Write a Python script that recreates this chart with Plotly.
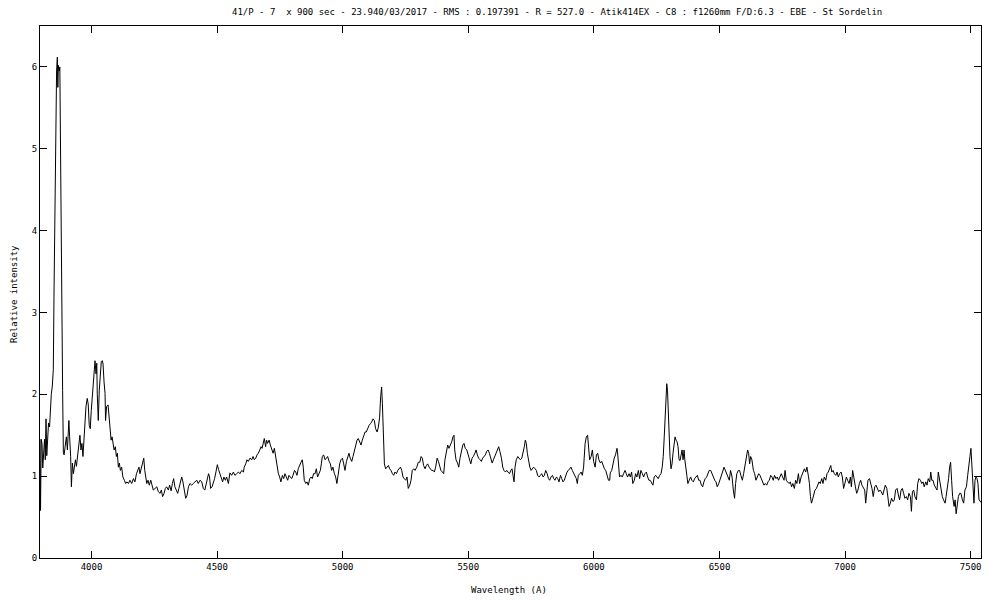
import plotly.graph_objects as go

# ---- data: wavelength (Angstrom) and relative intensity ----
wl_a = [3795,3797,3800,3803,3806,3810,3813,3816,3819,3822,
        3825,3829,3833,3836,3840,3844,3848,3851,3855,3858,
        3861,3864,3866,3868,3871,3874,3876,3879,3882,3885,
        3888,3891,3895,3900,3904,3908,3910,3913,3916,3917,
        3920,3924,3928,3932,3936,3940,3944,3948,3950,3954,
        3958,3962,3966,3970,3974,3978,3983,3987,3991,3995,
        3999,4003,4007,4011,4014,4018,4021,4023,4027,4031,
        4035,4039,4043,4046,4050,4054,4056,4060,4066,4070,
        4074,4078,4082,4086,4090,4095,4099,4103,4107,4111,
        4115,4120,4125,4131,4136,4141,4147,4153,4160,4167,
        4173,4179,4184,4189,4193,4198,4204,4208,4212,4216,
        4220,4225,4230,4236,4241,4246,4253,4260,4266,4273,
        4278,4283,4289,4294,4299,4306,4311,4317,4322,4327,
        4332,4338,4343,4348,4354,4359,4364,4370,4375,4380,
        4386,4392,4399,4405,4412,4419,4425,4432,4439,4445,
        4451,4456,4461,4466,4470,4474,4480,4485,4490,4496,
        4501,4506,4512,4517,4522,4527,4533,4538,4545]
iv_a = [1.45,0.58,1.45,1.40,1.10,1.25,1.45,1.20,1.70,1.25,
        1.55,1.65,1.60,1.80,2.00,2.10,2.30,3.30,4.60,4.90,
        5.95,6.12,5.75,6.02,5.95,6.00,5.15,3.50,2.60,2.05,
        1.28,1.26,1.36,1.48,1.32,1.64,1.68,1.48,1.30,1.24,
        0.87,1.16,1.03,1.12,1.20,1.12,1.24,1.32,1.40,1.50,
        1.32,1.40,1.24,1.48,1.68,1.85,1.95,1.88,1.62,1.58,
        1.80,1.97,2.13,2.29,2.41,2.25,2.38,2.00,1.68,2.05,
        2.25,2.40,2.41,2.37,2.15,2.01,1.68,1.85,1.87,1.72,
        1.56,1.44,1.48,1.40,1.32,1.36,1.24,1.28,1.11,1.16,
        1.07,1.11,0.99,0.95,0.91,0.93,0.91,0.95,0.91,0.97,
        0.93,1.03,1.07,1.11,1.03,1.10,1.16,1.22,1.07,0.99,
        0.91,0.95,0.89,0.95,0.87,0.83,0.85,0.87,0.81,0.79,
        0.83,0.75,0.79,0.85,0.87,0.83,0.89,0.82,0.91,0.97,
        0.87,0.83,0.79,0.85,0.91,0.99,0.93,0.83,0.73,0.76,
        0.87,0.91,0.89,0.91,0.93,0.95,0.91,0.95,0.93,0.85,
        0.83,0.89,0.95,1.03,0.99,0.85,0.87,0.91,0.97,1.06,
        1.14,1.08,1.03,0.99,0.93,0.99,0.95,0.99,0.91]

wl_b = [4551,4558,4565,4571,4578,4585,4591,4598,4605,4608,
        4614,4619,4624,4631,4638,4643,4648,4654,4659,4664,
        4670,4675,4679,4683,4688,4693,4697,4701,4707,4712,
        4717,4723,4728,4733,4738,4744,4749,4754,4760,4765,
        4770,4776,4781,4786,4792,4797,4802,4808,4813,4818,
        4823,4829,4834,4839,4843,4847,4853,4858,4863,4869,
        4874,4879,4884,4890,4895,4900,4906,4911,4915,4919,
        4924,4930,4935,4940,4946,4951,4956,4961,4967,4972,
        4977,4983,4988,4993,4999,5004,5009,5015,5020,5025,
        5030,5036,5041,5046,5052,5057,5062,5068,5073,5078,
        5084,5089,5094,5099,5105,5110,5115,5121,5126,5131,
        5137,5142,5147,5151,5155,5158,5162,5166,5171,5176,
        5182,5187,5192,5198,5203,5208,5214,5219,5224,5230,
        5235,5240,5245,5251,5256,5261,5267,5272,5277,5283,
        5288,5295,5301]
iv_b = [1.04,1.01,1.05,1.01,1.03,1.05,1.03,1.07,1.05,1.11,
        1.15,1.20,1.18,1.22,1.20,1.24,1.20,1.22,1.26,1.28,
        1.32,1.36,1.34,1.40,1.46,1.36,1.44,1.40,1.44,1.38,
        1.32,1.28,1.34,1.24,1.11,1.03,0.99,0.93,1.01,0.97,
        1.03,0.99,0.95,1.01,0.99,0.97,1.01,1.07,1.05,1.01,
        1.09,1.15,1.17,1.20,1.11,0.95,0.91,0.93,0.89,0.97,
        0.99,0.97,1.03,1.03,1.09,0.99,1.03,1.07,1.15,1.24,
        1.26,1.20,1.22,1.24,1.18,1.15,1.07,1.11,1.03,0.99,
        0.91,1.07,1.15,1.20,1.22,1.15,1.07,1.18,1.24,1.28,
        1.22,1.18,1.24,1.30,1.36,1.44,1.46,1.42,1.38,1.44,
        1.50,1.54,1.54,1.58,1.62,1.64,1.66,1.70,1.68,1.58,
        1.54,1.60,1.72,1.97,2.09,1.89,1.52,1.15,1.09,1.11,
        1.13,1.09,1.07,1.03,1.01,1.05,1.03,1.07,1.09,1.11,
        1.07,0.99,0.97,0.95,0.99,0.85,0.89,0.95,1.07,1.09,
        1.07,1.11,1.17]

wl_c = [5307,5312,5317,5322,5328,5333,5338,5344,5349,5354,
        5360,5365,5370,5376,5381,5386,5391,5397,5402,5407,
        5413,5418,5423,5429,5434,5439,5443,5446,5451,5457,
        5462,5467,5472,5478,5483,5488,5494,5499,5504,5510,
        5515,5520,5526,5531,5536,5541,5547,5552,5557,5563,
        5568,5573,5579,5584,5589,5595,5600,5605,5610,5616,
        5621,5626,5632,5637,5642,5648,5653,5658,5664,5669,
        5674,5678,5682,5686,5691,5697,5702,5707,5713,5718,
        5723,5727,5731,5735,5739,5745,5750,5755,5760,5766,
        5771,5776,5782,5787,5792,5798,5803,5808,5814,5819,
        5824,5829,5835,5840,5845,5851,5856,5861,5867,5872,
        5877,5882,5888,5893,5898,5904,5909,5914,5920,5925,
        5930,5934,5938,5944,5949,5954,5959,5965,5970,5975,
        5979,5983,5989,5994,5999,6005,6010,6015,6020,6026,
        6031,6036,6042,6047,6052,6058,6063]
iv_c = [1.17,1.24,1.22,1.13,1.09,1.13,1.15,1.11,1.09,1.07,
        1.07,1.05,1.11,1.22,1.18,1.11,1.07,1.05,1.03,1.20,
        1.28,1.38,1.34,1.38,1.42,1.48,1.50,1.32,1.20,1.16,
        1.11,1.22,1.28,1.38,1.40,1.34,1.32,1.26,1.22,1.15,
        1.22,1.24,1.28,1.32,1.26,1.22,1.20,1.18,1.22,1.24,
        1.26,1.30,1.32,1.28,1.22,1.16,1.20,1.24,1.28,1.34,
        1.36,1.30,1.22,1.11,1.07,1.05,1.07,1.05,1.03,1.07,
        1.09,1.01,0.93,1.11,1.20,1.24,1.22,1.20,1.22,1.28,
        1.36,1.44,1.40,1.28,1.20,1.11,1.07,1.09,1.11,1.09,
        1.07,1.01,0.99,1.01,1.03,0.99,1.01,1.07,1.03,0.97,
        0.95,0.99,1.01,0.97,0.95,0.99,0.97,0.93,1.01,0.97,
        0.93,0.95,1.01,1.05,1.07,1.09,1.11,1.07,1.03,0.99,
        0.97,0.91,1.01,1.03,1.05,1.01,1.11,1.40,1.48,1.50,
        1.38,1.20,1.24,1.32,1.18,1.11,1.26,1.28,1.20,1.16,
        1.18,1.13,1.09,1.07,1.01,0.95,0.95]

wl_d = [6065,6071,6076,6081,6086,6092,6094,6098,6102,6108,
        6113,6118,6124,6129,6134,6140,6145,6150,6155,6161,
        6166,6171,6177,6182,6187,6193,6198,6203,6209,6214,
        6219,6224,6230,6235,6240,6246,6251,6256,6262,6267,
        6272,6276,6280,6284,6287,6290,6293,6296,6299,6303,
        6307,6311,6315,6319,6323,6327,6331,6335,6339,6343,
        6347,6351,6355,6359,6362,6366,6370,6374,6380,6385,
        6390,6396,6401,6406,6412,6417,6422,6428,6433,6438,
        6443,6449,6454,6459,6465,6470,6475,6481,6486,6491,
        6497,6502,6507,6512,6518,6523,6528,6534,6539,6544,
        6550,6555,6560,6564,6569,6575,6580,6585,6591,6596,
        6601,6607,6612,6616,6620,6624,6629,6635,6640,6645,
        6650,6656,6661,6666,6672,6677,6682,6688,6693,6698,
        6704,6709,6714,6719,6725,6730,6735,6741,6746,6751,
        6757,6761,6766,6771,6777,6782,6787,6792,6798,6803,
        6808,6814,6819]
iv_d = [1.04,1.07,1.15,1.22,1.26,1.34,1.30,1.11,0.99,1.01,
        0.99,1.03,1.07,1.03,0.99,1.03,0.99,1.05,0.91,0.95,
        1.03,0.99,1.07,0.97,1.07,1.03,0.99,1.03,1.05,0.99,
        0.95,0.95,0.91,0.89,0.99,1.01,0.99,0.97,1.01,1.03,
        1.11,1.24,1.48,1.68,1.93,2.13,2.05,1.76,1.44,1.24,
        1.09,1.15,1.28,1.36,1.48,1.44,1.42,1.36,1.20,1.19,
        1.28,1.32,1.20,1.32,1.20,1.07,1.01,0.91,0.95,0.99,
        0.95,0.93,0.97,0.99,1.01,0.95,0.95,0.89,0.87,0.93,
        0.97,0.99,1.03,1.07,1.07,1.03,1.01,0.95,0.93,0.87,
        0.91,0.95,0.99,1.05,1.11,1.07,1.03,0.99,0.95,1.07,
        0.99,0.83,0.73,0.91,1.03,1.07,1.07,1.01,0.95,1.03,
        1.11,1.20,1.32,1.28,1.15,1.24,1.20,1.07,1.03,0.95,
        0.99,1.03,1.01,0.97,0.93,0.89,0.91,0.89,0.93,0.95,
        1.01,0.99,0.95,1.01,0.97,0.99,0.95,1.01,1.03,0.99,
        0.95,1.07,0.95,0.93,0.91,0.93,0.87,0.91,0.85,0.95,
        0.91,1.03,0.91]

wl_e = [6825,6830,6834,6838,6843,6848,6854,6858,6862,6866,
        6870,6875,6880,6886,6891,6896,6901,6907,6912,6917,
        6923,6928,6933,6939,6943,6947,6952,6957,6963,6968,
        6973,6978,6984,6989,6994,6999,7005,7010,7016,7021,
        7025,7030,7035,7041,7046,7051,7057,7062,7067,7073,
        7078,7082,7086,7091,7097,7102,7107,7112,7118,7123,
        7128,7134,7139,7144,7150,7155,7160,7166,7171,7175,
        7180,7185,7191,7196,7201,7207,7212,7217,7223,7228,
        7233,7238,7244,7249,7254,7260,7264,7268,7273,7278,
        7284,7289,7294,7300,7305,7310,7315,7321,7326,7331,
        7337,7341,7345,7350,7355,7361,7366,7371,7376,7382,
        7387,7392,7398,7402,7407,7412,7416,7420,7424,7428,
        7434,7438,7442,7446,7451,7456,7461,7467,7472,7477,
        7483,7488,7493,7497,7501,7505,7509,7513,7517,7521,
        7525,7529,7533,7537,7540]
iv_e = [0.99,1.03,1.07,1.09,1.05,1.11,1.00,0.91,0.75,0.67,
        0.71,0.79,0.83,0.85,0.89,0.93,0.91,0.97,0.91,0.99,
        0.95,1.03,1.05,1.09,1.13,1.05,1.07,1.03,1.01,1.05,
        0.99,1.03,1.05,0.99,0.85,0.91,0.99,0.95,0.91,0.99,
        0.87,1.07,0.95,0.87,0.79,0.83,0.91,0.95,0.89,0.85,
        0.83,0.67,0.79,0.95,0.97,0.91,0.85,0.75,0.87,0.89,
        0.85,0.81,0.83,0.81,0.77,0.83,0.89,0.85,0.71,0.63,
        0.67,0.73,0.69,0.71,0.83,0.85,0.77,0.71,0.83,0.85,
        0.79,0.73,0.75,0.71,0.79,0.75,0.57,0.81,0.83,0.75,
        0.71,0.91,0.97,0.95,0.91,0.93,0.87,0.93,0.89,0.97,
        0.93,1.05,0.95,0.95,0.89,0.85,0.83,1.05,0.95,0.83,
        0.75,0.71,0.67,0.75,0.85,0.97,1.11,1.17,0.95,0.75,
        0.63,0.71,0.54,0.63,0.75,0.79,0.79,0.71,0.67,0.83,
        0.87,1.01,1.11,1.24,1.34,1.15,0.95,0.67,0.95,0.99,
        0.97,0.91,0.71,0.70,0.68]

x_ticks = [4000, 4500, 5000, 5500, 6000, 6500, 7000, 7500]
y_ticks = [0, 1, 2, 3, 4, 5, 6]

title_text = ("41/P - 7&nbsp;&nbsp;x 900 sec - 23.940/03/2017 - RMS : 0.197391 - R = 527.0 - "
              "Atik414EX - C8 : f1260mm F/D:6.3 - EBE - St Sordelin")
x_label = "Wavelength (A)"
y_label = "Relative intensity"

wl = wl_a + wl_b + wl_c + wl_d + wl_e
iv = iv_a + iv_b + iv_c + iv_d + iv_e

FONT = "DejaVu Sans Mono"

# The page body has an 8px default margin, so the figure is sized 992x592
# and starts at page pixel (8, 8). Plot area on the page: x 40..981, y 26..558.
OFF = 8
PLOT_L, PLOT_R, PLOT_T, PLOT_B = 40, 981, 26, 558
FIG_W, FIG_H = 1000 - OFF, 600 - OFF


def paper_xy(px, py):
    return ((px - PLOT_L) / (PLOT_R - PLOT_L), (PLOT_B - py) / (PLOT_B - PLOT_T))


fig = go.Figure()
fig.add_trace(go.Scatter(x=wl, y=iv, mode="lines",
                         line=dict(color="black", width=1), showlegend=False))

axis_common = dict(showline=True, linecolor="black", linewidth=1, mirror="ticks",
                   ticks="inside", ticklen=7, tickcolor="black", tickwidth=1,
                   showgrid=False, zeroline=False,
                   tickfont=dict(family=FONT, size=9, color="black"))

ann_font = dict(family=FONT, size=9, color="black")
tx, ty = paper_xy(557, 12)
xx, xy = paper_xy(509, 590)
yx, yy = paper_xy(14, 294)

fig.update_layout(
    width=FIG_W, height=FIG_H,
    margin=dict(l=PLOT_L - OFF, r=1000 - PLOT_R, t=PLOT_T - OFF, b=FIG_H - (PLOT_B - OFF)),
    paper_bgcolor="white", plot_bgcolor="white",
    xaxis=dict(range=[3795, 7541], tickvals=x_ticks, **axis_common),
    yaxis=dict(range=[0, 6.5], tickvals=y_ticks, **axis_common),
    annotations=[
        dict(text=title_text, xref="paper", yref="paper", x=tx, y=ty, showarrow=False,
             font=ann_font, xanchor="center", yanchor="middle"),
        dict(text=x_label, xref="paper", yref="paper", x=xx, y=xy, showarrow=False,
             font=ann_font, xanchor="center", yanchor="middle"),
        dict(text=y_label, xref="paper", yref="paper", x=yx, y=yy, showarrow=False,
             textangle=-90, font=ann_font, xanchor="center", yanchor="middle"),
    ],
)

fig.write_html("out.html")
